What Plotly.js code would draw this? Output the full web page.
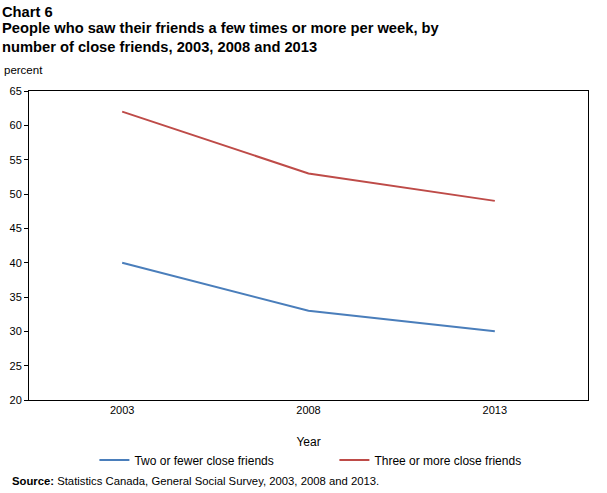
<!DOCTYPE html>
<html>
<head>
<meta charset="utf-8">
<script src="https://cdn.plot.ly/plotly-3.0.1.min.js"></script>
<style>html,body{margin:0;padding:0;background:#fff;}#chart{width:607px;height:493px;}</style>
</head>
<body>
<div id="chart"></div>
<script>
var years = ["2003", "2008", "2013"];
var twoOrFewer = [40, 33, 30];
var threeOrMore = [62, 53, 49];
var seriesNames = ["Two or fewer close friends", "Three or more close friends"];

var font = "Arial, 'Liberation Sans', sans-serif";
var traces = [
  {x: years, y: twoOrFewer, name: seriesNames[0], type: "scatter", mode: "lines",
   line: {color: "#4A7EBB", width: 2}},
  {x: years, y: threeOrMore, name: seriesNames[1], type: "scatter", mode: "lines",
   line: {color: "#BE4B48", width: 2}}
];
var layout = {
  width: 607, height: 493,
  margin: {l: 29, r: 19, t: 91, b: 93},
  paper_bgcolor: "#fff", plot_bgcolor: "#fff",
  font: {family: font, size: 11, color: "#000"},
  showlegend: true,
  legend: {orientation: "h", x: 0.117, xanchor: "left", y: -0.194, yanchor: "middle",
           font: {size: 12}, itemwidth: 30, traceorder: "normal", entrywidth: 195,
           bgcolor: "rgba(0,0,0,0)"},
  xaxis: {type: "category", range: [-0.5, 2.5], showline: true, mirror: true,
          linecolor: "#000", linewidth: 1, ticks: "", showgrid: false, zeroline: false,
          tickfont: {size: 11}, title: {text: "Year", font: {size: 12}, standoff: 22}},
  yaxis: {range: [20, 65], dtick: 5, showline: true, mirror: true, linecolor: "#000",
          linewidth: 1, ticks: "outside", ticklen: 4, tickcolor: "#000", showgrid: false,
          zeroline: false, tickfont: {size: 11}},
  annotations: [
    {xref: "paper", yref: "paper", x: -29/559, xanchor: "left", y: 1 + 79/309, yanchor: "middle",
     text: "<b>Chart 6</b>", showarrow: false, font: {size: 14.7}},
    {xref: "paper", yref: "paper", x: -29/559, xanchor: "left", y: 1 + 54/309, yanchor: "middle",
     align: "left",
     text: "<b>People who saw their friends a few times or more per week, by<br>number of close friends, 2003, 2008 and 2013</b>",
     showarrow: false, font: {size: 14.7}},
    {xref: "paper", yref: "paper", x: -27/559, xanchor: "left", y: 1 + 21/309, yanchor: "middle",
     text: "percent", showarrow: false, font: {size: 11.5}},
    {xref: "paper", yref: "paper", x: -19/559, xanchor: "left", y: -81/309, yanchor: "middle",
     text: "<b>Source:</b> Statistics Canada, General Social Survey, 2003, 2008 and 2013.",
     showarrow: false, font: {size: 11.3}}
  ]
};
Plotly.newPlot("chart", traces, layout, {displayModeBar: false});
</script>
</body>
</html>
